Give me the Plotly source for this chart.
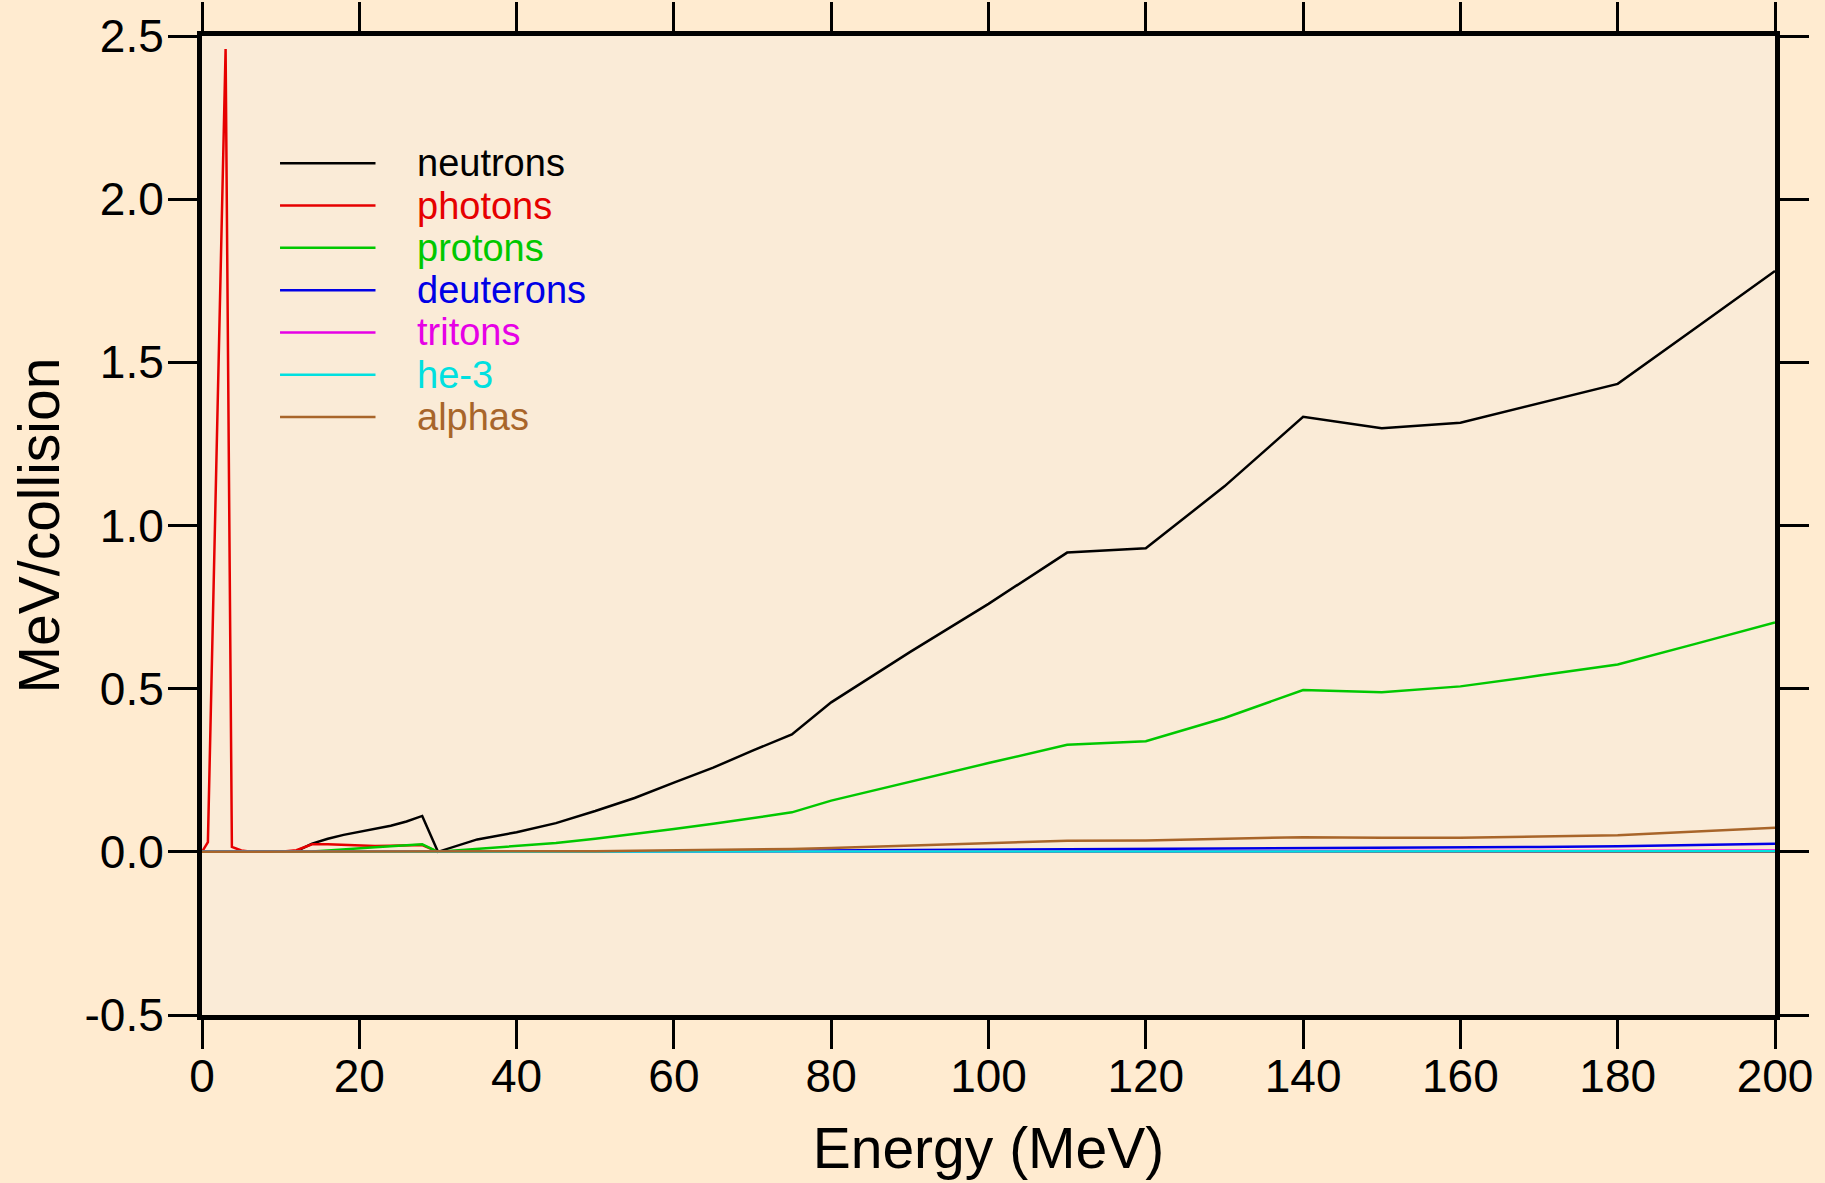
import plotly.graph_objects as go

energy = [0, 0.75, 3, 3.8, 5, 6, 8, 10, 12, 14, 16, 18, 20, 22, 24, 26, 28, 30,
          35, 40, 45, 50, 55, 60, 65, 70, 75, 80, 90, 100, 110, 120, 130, 140,
          150, 160, 170, 180, 190, 200]

neutrons = [0, 0, 0, 0, 0, 0, 0, 0, 0.002, 0.025, 0.040, 0.052, 0.061, 0.069, 0.080, 0.093, 0.110, 0.0,
            0.038, 0.060, 0.088, 0.125, 0.165, 0.212, 0.258, 0.310, 0.360, 0.458, 0.612, 0.760,
            0.917, 0.930, 1.120, 1.333, 1.298, 1.315, 1.375, 1.434, 1.607, 1.780]
photons = [0, 0.03, 2.46, 0.015, 0.004, 0.001, 0, 0, 0.005, 0.023, 0.023, 0.021, 0.019, 0.018, 0.019, 0.020, 0.021, 0.0,
           0, 0, 0, 0, 0, 0, 0, 0, 0, 0, 0, 0, 0, 0, 0, 0, 0, 0, 0, 0, 0, 0]
protons = [0, 0, 0, 0, 0, 0, 0, 0, 0, 0.001, 0.004, 0.008, 0.011, 0.014, 0.017, 0.020, 0.023, 0.0,
           0.009, 0.017, 0.027, 0.040, 0.054, 0.070, 0.086, 0.103, 0.121, 0.157, 0.215, 0.272,
           0.328, 0.339, 0.410, 0.496, 0.489, 0.507, 0.540, 0.574, 0.638, 0.703]
deuterons = [0, 0, 0, 0, 0, 0, 0, 0, 0, 0, 0, 0, 0, 0, 0, 0, 0.001, 0.0,
             0.0003, 0.0005, 0.001, 0.0013, 0.0016, 0.002, 0.0025, 0.003, 0.0035, 0.004, 0.005, 0.006,
             0.007, 0.008, 0.0095, 0.011, 0.012, 0.013, 0.015, 0.017, 0.021, 0.025]
tritons = [0, 0, 0, 0, 0, 0, 0, 0, 0, 0, 0, 0, 0, 0, 0, 0, 0, 0,
           0, 0, 0, 0, 0, 0.0003, 0.0004, 0.0005, 0.0006, 0.0007, 0.0009, 0.001,
           0.0013, 0.0015, 0.0018, 0.002, 0.0022, 0.0025, 0.0028, 0.003, 0.0035, 0.004]
he3 = [0, 0, 0, 0, 0, 0, 0, 0, 0, 0, 0, 0, 0, 0, 0, 0, 0, 0,
       0, 0, 0, 0, 0, 0, 0, 0, 0.0002, 0.0003, 0.0004, 0.0005,
       0.0006, 0.0007, 0.0008, 0.001, 0.0011, 0.0012, 0.0014, 0.0015, 0.0018, 0.002]
alphas = [0, 0, 0, 0, 0, 0, 0, 0, 0, 0, 0, 0, 0, 0, 0, 0, 0, 0,
          0, 0, 0.001, 0.002, 0.003, 0.004, 0.005, 0.007, 0.009, 0.012, 0.020, 0.027,
          0.034, 0.035, 0.040, 0.045, 0.043, 0.043, 0.047, 0.051, 0.062, 0.074]

series_names = ["neutrons", "photons", "protons", "deuterons", "tritons", "he-3", "alphas"]
series_values = [neutrons, photons, protons, deuterons, tritons, he3, alphas]
series_colors = ["#000000", "#e60000", "#00c800", "#0000e6", "#e600e6", "#00e0e0", "#a8652a"]

x_ticks = [0, 20, 40, 60, 80, 100, 120, 140, 160, 180, 200]
y_ticks = [-0.5, 0.0, 0.5, 1.0, 1.5, 2.0, 2.5]
y_tick_labels = ["-0.5", "0.0", "0.5", "1.0", "1.5", "2.0", "2.5"]

FONT = "Liberation Sans, Arial, Helvetica, sans-serif"
PAPER_BG = "#ffebd0"

fig = go.Figure()
for name, vals, col in zip(series_names, series_values, series_colors):
    fig.add_trace(go.Scatter(x=energy, y=vals, mode="lines", name=name,
                             line=dict(color=col, width=2.5), showlegend=False))

# manual legend (paper coordinates)
leg_x0, leg_x1, leg_tx = 0.0496, 0.1103, 0.1354
leg_y0, leg_dy = 0.870, 0.0432
shapes = []
annotations = []
for i, (name, col) in enumerate(zip(series_names, series_colors)):
    yy = leg_y0 - i * leg_dy
    shapes.append(dict(type="line", xref="paper", yref="paper", x0=leg_x0, x1=leg_x1,
                       y0=yy, y1=yy, line=dict(color=col, width=2.5)))
    annotations.append(dict(xref="paper", yref="paper", x=leg_tx, y=yy, text=name,
                            showarrow=False, xanchor="left", yanchor="middle",
                            font=dict(family=FONT, size=38, color=col)))

fig.update_layout(
    width=1825, height=1183,
    paper_bgcolor=PAPER_BG, plot_bgcolor="#faebd7",
    margin=dict(l=202, r=50, t=36, b=168, autoexpand=False),
    font=dict(family=FONT, color="#000000"),
    shapes=shapes, annotations=annotations,
    showlegend=False,
)
fig.update_xaxes(range=[0, 200], tickvals=x_ticks, ticks="outside", ticklen=29, tickwidth=2.5,
                 tickcolor="#000", showline=True, linewidth=5, linecolor="#000", mirror="ticks",
                 showgrid=False, zeroline=False, tickfont=dict(size=46), automargin=True,
                 ticklabelstandoff=-12,
                 title=dict(text="Energy (MeV)", font=dict(size=57), standoff=28))
fig.update_yaxes(range=[-0.5, 2.5], tickvals=y_ticks, ticktext=y_tick_labels, ticks="outside",
                 ticklen=29, tickwidth=2.5, tickcolor="#000", showline=True, linewidth=5,
                 linecolor="#000", mirror="ticks", showgrid=False, zeroline=False,
                 tickfont=dict(size=46), automargin=True, ticklabelstandoff=-5,
                 title=dict(text="MeV/collision", font=dict(size=57), standoff=8))

fig.write_html(
    "out.html",
    config={"displayModeBar": False},
    post_script=("document.body.style.margin='0';document.body.style.padding='0';"
                 "document.body.style.overflow='hidden';"
                 "document.body.style.background='" + PAPER_BG + "';"),
)
